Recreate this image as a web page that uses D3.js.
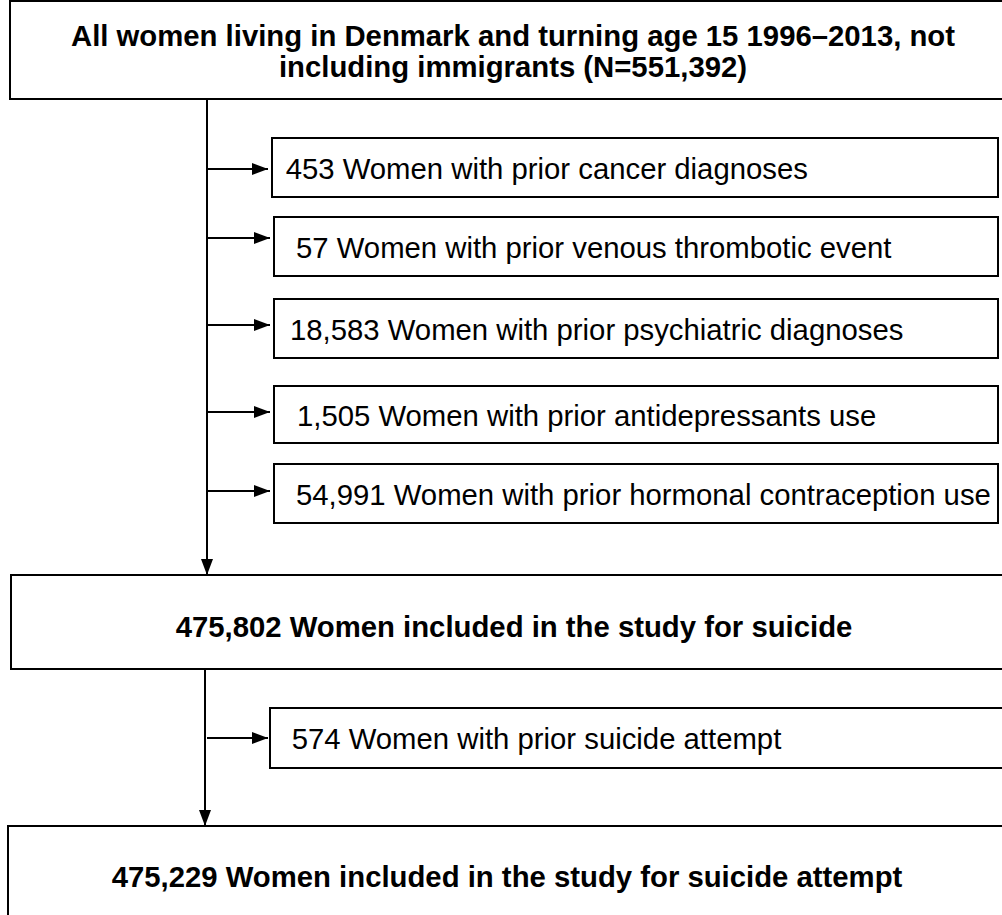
<!DOCTYPE html>
<html>
<head>
<meta charset="utf-8">
<script src="https://cdn.jsdelivr.net/npm/d3@7"></script>
<style>
  html, body { margin: 0; padding: 0; background: #fff; }
  svg { display: block; }
  text { font-family: "Liberation Sans", Arial, sans-serif; fill: #000; }
</style>
</head>
<body>
<svg id="chart" width="1002" height="915"></svg>
<script>
// ---- data ----
const populationLabel = ["All women living in Denmark and turning age 15 1996–2013, not", "including immigrants (N=551,392)"];
const exclusionCounts = ["453", "57", "18,583", "1,505", "54,991"];
const exclusionReasons = [
  "Women with prior cancer diagnoses",
  "Women with prior venous thrombotic event",
  "Women with prior psychiatric diagnoses",
  "Women with prior antidepressants use",
  "Women with prior hormonal contraception use"
];
const cohortCounts = ["475,802", "475,229"];
const cohortLabels = ["Women included in the study for suicide", "Women included in the study for suicide attempt"];
const secondExclusionCounts = ["574"];
const secondExclusionReasons = ["Women with prior suicide attempt"];

// ---- layout (pixel geometry, kept separate from the data) ----
const x = d3.scaleIdentity().domain([0, 1002]);
const y = d3.scaleIdentity().domain([0, 915]);
const FS = 29.3;
const exclBoxes = [
  {top: 138, bottom: 197, left: 272, arrowY: 169, textX: 285.7},
  {top: 217, bottom: 276, left: 274, arrowY: 238, textX: 296},
  {top: 299, bottom: 358, left: 274, arrowY: 325, textX: 290},
  {top: 386, bottom: 443, left: 274, arrowY: 412, textX: 297},
  {top: 464, bottom: 523, left: 274, arrowY: 491, textX: 296}
];
const exclBoxes2 = [{top: 708, bottom: 768, left: 270, arrowY: 738, textX: 291.7}];
const RIGHT = 998;

const svg = d3.select("#chart");

svg.append("defs").append("marker")
  .attr("id", "ah").attr("viewBox", "0 0 16 12")
  .attr("refX", 16).attr("refY", 6)
  .attr("markerWidth", 16).attr("markerHeight", 12)
  .attr("markerUnits", "userSpaceOnUse")
  .attr("orient", "auto")
  .append("path").attr("d", "M0,0 L16,6 L0,12 Z").attr("fill", "#000");

const stroke = "#000", sw = 2;

function box(x0, y0, x1, y1) {
  svg.append("rect")
    .attr("x", x(x0)).attr("y", y(y0))
    .attr("width", x(x1) - x(x0)).attr("height", y(y1) - y(y0))
    .attr("fill", "#fff").attr("stroke", stroke).attr("stroke-width", sw);
}
function arrow(x0, y0, x1, y1) {
  svg.append("line")
    .attr("x1", x(x0)).attr("y1", y(y0)).attr("x2", x(x1)).attr("y2", y(y1))
    .attr("stroke", stroke).attr("stroke-width", sw)
    .attr("marker-end", "url(#ah)");
}

// top population box
box(10, 1, 1020, 99);
svg.selectAll("text.pop").data(populationLabel).join("text")
  .attr("class", "pop")
  .attr("x", x(513)).attr("y", (d, i) => y(46 + i * 31))
  .attr("text-anchor", "middle").attr("font-weight", "bold").attr("font-size", FS)
  .text(d => d);

// main vertical arrow
arrow(207, 99, 207, 575);

// exclusion boxes
exclBoxes.forEach((b, i) => {
  box(b.left, b.top, RIGHT, b.bottom);
  arrow(207, b.arrowY, b.left - 4, b.arrowY);
  svg.append("text")
    .attr("x", x(b.textX)).attr("y", y((b.top + b.bottom) / 2 + 11))
    .attr("font-size", FS)
    .text(exclusionCounts[i] + " " + exclusionReasons[i]);
});

// cohort box 1
box(11, 575, 1020, 669);
svg.append("text")
  .attr("x", x(514)).attr("y", y(637))
  .attr("text-anchor", "middle").attr("font-weight", "bold").attr("font-size", FS)
  .text(cohortCounts[0] + " " + cohortLabels[0]);

// second vertical arrow
arrow(205, 669, 205, 826);

exclBoxes2.forEach((b, i) => {
  box(b.left, b.top, RIGHT + 10, b.bottom);
  arrow(207, b.arrowY, b.left - 2, b.arrowY);
  svg.append("text")
    .attr("x", x(b.textX)).attr("y", y((b.top + b.bottom) / 2 + 11))
    .attr("font-size", FS)
    .text(secondExclusionCounts[i] + " " + secondExclusionReasons[i]);
});

// cohort box 2
box(8, 826, 1010, 940);
svg.append("text")
  .attr("x", x(507)).attr("y", y(887))
  .attr("text-anchor", "middle").attr("font-weight", "bold").attr("font-size", FS)
  .text(cohortCounts[1] + " " + cohortLabels[1]);
</script>
</body>
</html>
